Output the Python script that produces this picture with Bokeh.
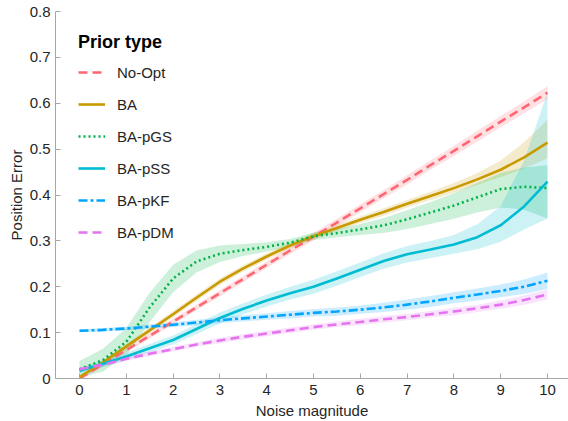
from bokeh.plotting import figure
from bokeh.models import (ColumnDataSource, Legend, LegendItem, FixedTicker,
                          CustomJSTickFormatter, Range1d)
from bokeh.embed import file_html
from bokeh.resources import INLINE

noise = [0, 0.5, 1, 1.5, 2, 2.5, 3, 3.5, 4, 4.5, 5, 5.5, 6, 6.5, 7, 7.5, 8, 8.5, 9, 9.5, 10]

no_opt = [0.0, 0.031, 0.062, 0.093, 0.124, 0.155, 0.186, 0.217, 0.248, 0.279, 0.309,
          0.34, 0.371, 0.402, 0.433, 0.465, 0.496, 0.528, 0.56, 0.591, 0.623]
no_opt_lo = [0.004, 0.005, 0.005, 0.006, 0.006, 0.006, 0.007, 0.007, 0.007, 0.008, 0.008,
             0.008, 0.009, 0.009, 0.01, 0.01, 0.011, 0.012, 0.012, 0.013, 0.014]
no_opt_hi = no_opt_lo

ba = [0.003, 0.035, 0.07, 0.105, 0.14, 0.176, 0.211, 0.24, 0.266, 0.29, 0.31,
      0.328, 0.346, 0.363, 0.381, 0.398, 0.415, 0.434, 0.455, 0.482, 0.514]
ba_lo = [0.003, 0.004, 0.005, 0.006, 0.007, 0.007, 0.007, 0.007, 0.007, 0.007, 0.007,
         0.007, 0.007, 0.008, 0.008, 0.009, 0.01, 0.012, 0.016, 0.024, 0.034]
ba_hi = [0.003, 0.004, 0.005, 0.006, 0.007, 0.007, 0.007, 0.007, 0.007, 0.007, 0.007,
         0.007, 0.007, 0.008, 0.008, 0.009, 0.011, 0.014, 0.02, 0.033, 0.05]

ba_pgs = [0.02, 0.04, 0.08, 0.155, 0.218, 0.255, 0.272, 0.28, 0.287, 0.296, 0.31,
          0.317, 0.325, 0.334, 0.347, 0.362, 0.377, 0.395, 0.413, 0.418, 0.415]
ba_pgs_lo = [0.018, 0.025, 0.03, 0.032, 0.03, 0.024, 0.018, 0.013, 0.01, 0.008, 0.008,
             0.009, 0.012, 0.017, 0.021, 0.025, 0.029, 0.033, 0.04, 0.05, 0.066]
ba_pgs_hi = [0.018, 0.025, 0.03, 0.032, 0.03, 0.024, 0.018, 0.013, 0.01, 0.008, 0.008,
             0.009, 0.012, 0.016, 0.02, 0.023, 0.027, 0.031, 0.035, 0.042, 0.05]

ba_pss = [0.017, 0.032, 0.048, 0.066, 0.084, 0.108, 0.132, 0.152, 0.17, 0.186, 0.2,
          0.218, 0.237, 0.256, 0.271, 0.281, 0.292, 0.308, 0.334, 0.375, 0.429]
ba_pss_lo = [0.006, 0.007, 0.008, 0.009, 0.01, 0.011, 0.012, 0.012, 0.013, 0.014, 0.015,
             0.016, 0.016, 0.017, 0.018, 0.019, 0.02, 0.026, 0.036, 0.05, 0.08]
ba_pss_hi = [0.006, 0.007, 0.008, 0.009, 0.01, 0.011, 0.012, 0.012, 0.013, 0.014, 0.015,
             0.016, 0.016, 0.017, 0.018, 0.019, 0.021, 0.028, 0.042, 0.1, 0.195]

ba_pkf = [0.104, 0.106, 0.109, 0.113, 0.117, 0.122, 0.127, 0.131, 0.135, 0.139, 0.143,
          0.146, 0.15, 0.155, 0.161, 0.168, 0.176, 0.183, 0.191, 0.2, 0.213]
ba_pkf_lo = [0.003, 0.004, 0.004, 0.005, 0.005, 0.006, 0.006, 0.007, 0.007, 0.008, 0.008,
             0.009, 0.009, 0.01, 0.011, 0.012, 0.012, 0.013, 0.014, 0.016, 0.018]
ba_pkf_hi = ba_pkf_lo

ba_pdm = [0.02, 0.03, 0.043, 0.054, 0.064, 0.074, 0.083, 0.091, 0.098, 0.105, 0.112,
          0.118, 0.123, 0.129, 0.134, 0.14, 0.146, 0.153, 0.161, 0.171, 0.183]
ba_pdm_lo = [0.004, 0.004, 0.005, 0.005, 0.005, 0.005, 0.006, 0.006, 0.006, 0.006, 0.006,
             0.006, 0.007, 0.007, 0.007, 0.007, 0.008, 0.008, 0.009, 0.01, 0.011]
ba_pdm_hi = ba_pdm_lo

labels = ["No-Opt", "BA", "BA-pGS", "BA-pSS", "BA-pKF", "BA-pDM"]
colors = ["#FF6673", "#C89A00", "#00B347", "#00BCD2", "#00A5FF", "#E573F0"]
dashes = ["9 5", "solid", "2 3", "solid", "9 3 3 3", "9 5"]

series = [(no_opt, no_opt_lo, no_opt_hi), (ba, ba_lo, ba_hi), (ba_pgs, ba_pgs_lo, ba_pgs_hi),
          (ba_pss, ba_pss_lo, ba_pss_hi), (ba_pkf, ba_pkf_lo, ba_pkf_hi),
          (ba_pdm, ba_pdm_lo, ba_pdm_hi)]

FONT = "Liberation Sans"

p = figure(width=568, height=421, output_backend="svg", toolbar_location=None,
           x_range=Range1d(-0.513, 10.449), y_range=Range1d(0, 0.8),
           min_border_left=55, min_border_top=11, min_border_right=0, min_border_bottom=42)
p.outline_line_color = None
p.xgrid.visible = False
p.ygrid.visible = False

# bands first
for (y, lo, hi), c in zip(series, colors):
    src = ColumnDataSource(dict(x=noise, lower=[a - b for a, b in zip(y, lo)],
                                upper=[a + b for a, b in zip(y, hi)]))
    p.varea(x="x", y1="lower", y2="upper", source=src, fill_color=c, fill_alpha=0.2)

items = []
for (y, lo, hi), c, d, lab in zip(series, colors, dashes, labels):
    r = p.line(noise, y, line_color=c, line_width=2.6, line_dash=d)
    items.append(LegendItem(label=lab, renderers=[r]))

leg = Legend(items=items, location=(23, 136), title="Prior type",
             title_text_font=FONT, title_text_font_style="bold", title_text_font_size="18px",
             title_text_color="#000000", title_standoff=9,
             label_text_font=FONT, label_text_font_size="15px", label_text_color="#262626",
             glyph_width=27, glyph_height=20, label_height=20, label_standoff=12,
             spacing=12, padding=0, margin=0,
             border_line_alpha=0, background_fill_alpha=0)
p.add_layout(leg, "center")

for ax in (p.xaxis[0], p.yaxis[0]):
    ax.axis_line_color = "#A6A6A6"
    ax.major_tick_line_color = "#A6A6A6"
    ax.major_tick_in = 5
    ax.major_tick_out = 0
    ax.minor_tick_line_color = None
    ax.major_label_text_font = FONT
    ax.major_label_text_font_size = "15px"
    ax.major_label_text_color = "#262626"
    ax.axis_label_text_font = FONT
    ax.axis_label_text_font_size = "15px"
    ax.axis_label_text_font_style = "normal"
    ax.axis_label_text_color = "#262626"

p.xaxis.axis_label = "Noise magnitude"
p.yaxis.axis_label = "Position Error"
p.xaxis.ticker = FixedTicker(ticks=list(range(0, 11)))
p.yaxis.ticker = FixedTicker(ticks=[0, 0.1, 0.2, 0.3, 0.4, 0.5, 0.6, 0.7, 0.8])
p.yaxis.formatter = CustomJSTickFormatter(code="return (Math.round(tick*10)/10).toString();")
p.xaxis.major_label_standoff = 6
p.yaxis.major_label_standoff = 5
p.xaxis.axis_label_standoff = 4
p.yaxis.axis_label_standoff = 2

open("out.html", "w").write(file_html(p, INLINE))
